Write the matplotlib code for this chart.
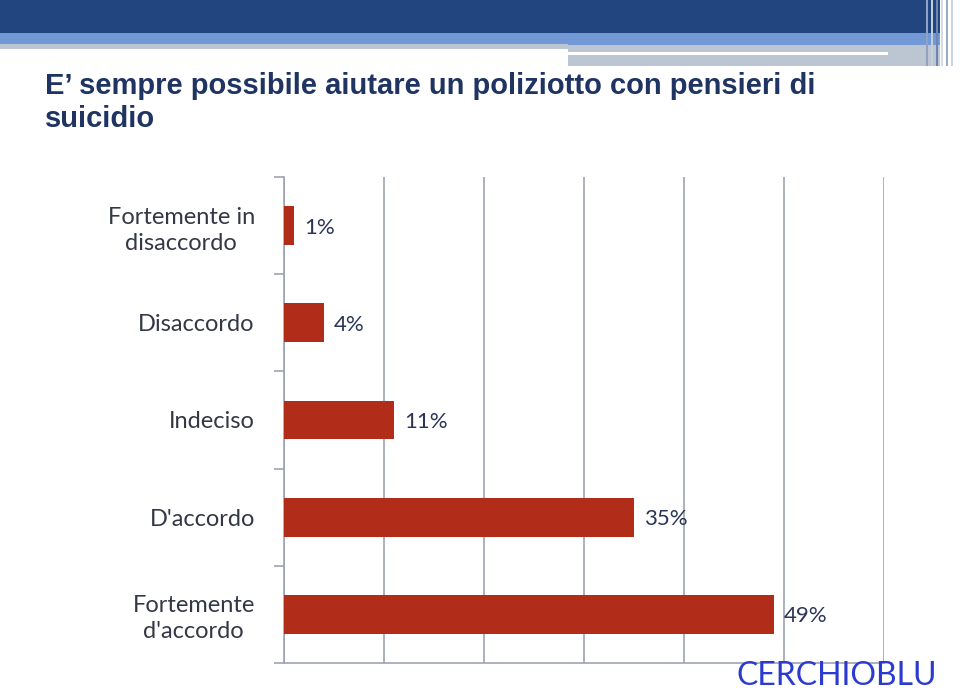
import matplotlib
matplotlib.use("Agg")
import matplotlib.pyplot as plt
from matplotlib.patches import Rectangle
from matplotlib.ticker import MultipleLocator, FixedLocator

categories = ["Fortemente in\ndisaccordo", "Disaccordo", "Indeciso",
              "D'accordo", "Fortemente\nd'accordo"]
values = [1, 4, 11, 35, 49]
value_labels = ["1%", "4%", "11%", "35%", "49%"]

title = "E\u2019 sempre possibile aiutare un poliziotto con pensieri di\nsuicidio"

W, H = 960, 691


def main() -> None:
    fig = plt.figure(figsize=(W / 100, H / 100), dpi=100)
    fig.patch.set_facecolor("white")

    # header bands (pixel boxes -> figure fraction)
    def band(x0, y0, x1, y1, color):
        fig.add_artist(Rectangle((x0 / W, 1 - y1 / H), (x1 - x0) / W, (y1 - y0) / H,
                                 transform=fig.transFigure, color=color, lw=0))

    band(0, 0, 940, 33, "#22457F")
    band(0, 33, 940, 45, "#7298D6")
    band(0, 44, 568, 49, "#BCC5D2")
    band(568, 45, 940, 66, "#BCC5D2")
    band(568, 52, 888, 55, "white")
    for xs, c in [(926, "#8FA3C0"), (931, "#C4CFDE"), (936, "#6F86AC"),
                  (941, "#D5DCE6"), (946, "#9AAAC2"), (951, "#C9D2DF")]:
        band(xs, 0, xs + 2, 66, c)

    # baseline of a multi-line text sits on its last line
    fig.text(45 / W, 1 - 127 / H, title, fontsize=21, fontweight="bold",
             color="#1F3463", family="Liberation Sans", va="baseline",
             linespacing=1.22)

    ax = fig.add_axes([284 / W, 1 - 663 / H, 600 / W, 486 / H])
    y = list(range(len(categories)))
    ax.barh(y, values, height=0.4, color="#B22D19", zorder=3)
    ax.set_xlim(0, 60)
    ax.set_ylim(len(categories) - 0.5, -0.5)

    ax.xaxis.set_major_locator(MultipleLocator(10))
    ax.grid(axis="x", color="#9EA3B3", lw=1.2, zorder=0)
    ax.tick_params(axis="x", length=0, labelbottom=False)

    ax.set_yticks(y)
    ax.set_yticklabels(categories, fontsize=17, color="#343846",
                       family="Lato", linespacing=1.3)
    for t in ax.get_yticklabels():
        t.set_multialignment("center")
    ax.yaxis.set_minor_locator(FixedLocator([i - 0.5 for i in range(len(categories) + 1)]))
    ax.tick_params(axis="y", which="major", length=0, pad=21)
    ax.tick_params(axis="y", which="minor", length=7, color="#9EA3B3", width=1.2)

    for side in ["top", "right"]:
        ax.spines[side].set_visible(False)
    for side in ["left", "bottom"]:
        ax.spines[side].set_color("#9EA3B3")
        ax.spines[side].set_linewidth(1.2)

    for yi, v, lab in zip(y, values, value_labels):
        ax.text(v + 1, yi + 0.02, lab, va="center", ha="left", fontsize=16,
                color="#2A3558", family="Lato", zorder=4)

    fig.text(737 / W, 1 - 685 / H, "CERCHIOBLU", fontsize=23, color="#2B3BCF",
             family="Lato", va="baseline")

    fig.savefig("out.png", dpi=100)
    plt.close(fig)


if __name__ == "__main__":
    main()
